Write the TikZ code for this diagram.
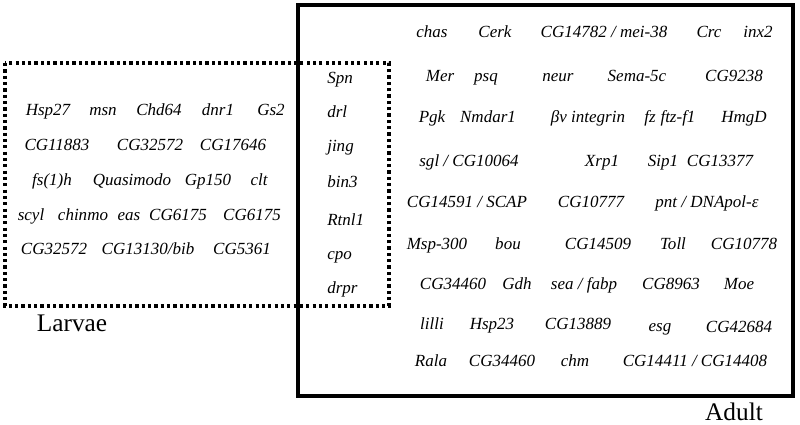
\documentclass[tikz,border=0pt]{standalone}
\usepackage{fontspec}
\setmainfont{Liberation Serif}
\usetikzlibrary{positioning}
\tikzset{
  gene/.style={font=\fontsize{12.1}{14}\selectfont\itshape,
    inner sep=0pt, text height=8pt, text depth=2pt},
  lgene/.style={gene, anchor=west},
  stage/.style={font=\fontsize{18}{20}\selectfont, inner sep=0pt},
  larvbox/.style={draw, line width=2.5pt, dash pattern=on 2.3pt off 2.2pt},
  adultbox/.style={draw, line width=2.8pt},
}

\begin{document}
\begin{tikzpicture}[x=0.025cm, y=-0.025cm]
  \useasboundingbox (0,0) rectangle (800,425);
  % the two sets
  \draw[adultbox] (298,5) rectangle (793,396);
  \draw[larvbox] (5,63) rectangle (389,306);
  \node[stage] (larvae) at (72,323) {Larvae};
  \node[stage] (adult) at (734,412) {Adult};

  % larvae only
  \node[gene] (hsp27) at (48,111) {Hsp27};
  \node[gene] (msn) at (103,111) {msn};
  \node[gene] (chd64) at (159,111) {Chd64};
  \node[gene] (dnr1) at (218,111) {dnr1};
  \node[gene] (gs2) at (271,111) {Gs2};
  \node[gene] (cg11883) at (57,146) {CG11883};
  \node[gene] (cg32572a) at (150,146) {CG32572};
  \node[gene] (cg17646) at (233,146) {CG17646};
  \node[gene] (fs1h) at (52,181) {fs(1)h};
  \node[gene] (quasi) at (132,181) {Quasimodo};
  \node[gene] (gp150) at (208,181) {Gp150};
  \node[gene] (clt) at (259,181) {clt};
  \node[gene] (scyl) at (31,216) {scyl};
  \node[gene] (chinmo) at (83,216) {chinmo};
  \node[gene] (eas) at (129,216) {eas};
  \node[gene] (cg6175a) at (178,216) {CG6175};
  \node[gene] (cg6175b) at (252,216) {CG6175};
  \node[gene] (cg32572b) at (54,250) {CG32572};
  \node[gene] (cg13130) at (148,250) {CG13130/bib};
  \node[gene] (cg5361) at (242,250) {CG5361};

  % both stages
  \node[lgene] (spn) at (327,79) {Spn};
  \node[lgene] (drl) at (327,113) {drl};
  \node[lgene] (jing) at (327,147) {jing};
  \node[lgene] (bin3) at (327,183) {bin3};
  \node[lgene] (rtnl1) at (327,221) {Rtnl1};
  \node[lgene] (cpo) at (327,255) {cpo};
  \node[lgene] (drpr) at (327,289) {drpr};

  % adult only
  \node[gene] (chas) at (432,33) {chas};
  \node[gene] (cerk) at (495,33) {Cerk};
  \node[gene] (cg14782) at (604,33) {CG14782 / mei-38};
  \node[gene] (crc) at (709,33) {Crc};
  \node[gene] (inx2) at (758,33) {inx2};
  \node[gene] (mer) at (440,77) {Mer};
  \node[gene] (psq) at (486,77) {psq};
  \node[gene] (neur) at (558,77) {neur};
  \node[gene] (sema5c) at (637,77) {Sema-5c};
  \node[gene] (cg9238) at (734,77) {CG9238};
  \node[gene] (pgk) at (432,118) {Pgk};
  \node[gene] (nmdar1) at (488,118) {Nmdar1};
  \node[gene] (bvint) at (588,118) {βv integrin};
  \node[gene] (fz) at (650,118) {fz};
  \node[gene] (ftzf1) at (678,118) {ftz-f1};
  \node[gene] (hmgd) at (744,118) {HmgD};
  \node[gene] (sgl) at (469,162) {sgl / CG10064};
  \node[gene] (xrp1) at (602,162) {Xrp1};
  \node[gene] (sip1) at (663,162) {Sip1};
  \node[gene] (cg13377) at (720,162) {CG13377};
  \node[gene] (cg14591) at (467,203) {CG14591 / SCAP};
  \node[gene] (cg10777) at (591,203) {CG10777};
  \node[gene] (pnt) at (707,203) {pnt / DNApol-ε};
  \node[gene] (msp300) at (437,245) {Msp-300};
  \node[gene] (bou) at (508,245) {bou};
  \node[gene] (cg14509) at (598,245) {CG14509};
  \node[gene] (toll) at (673,245) {Toll};
  \node[gene] (cg10778) at (744,245) {CG10778};
  \node[gene] (cg34460a) at (453,285) {CG34460};
  \node[gene] (gdh) at (517,285) {Gdh};
  \node[gene] (sea) at (584,285) {sea / fabp};
  \node[gene] (cg8963) at (671,285) {CG8963};
  \node[gene] (moe) at (739,285) {Moe};
  \node[gene] (lilli) at (432,325) {lilli};
  \node[gene] (hsp23) at (492,325) {Hsp23};
  \node[gene] (cg13889) at (578,325) {CG13889};
  \node[gene] (esg) at (660,327) {esg};
  \node[gene] (cg42684) at (739,328) {CG42684};
  \node[gene] (rala) at (431,362) {Rala};
  \node[gene] (cg34460b) at (502,362) {CG34460};
  \node[gene] (chm) at (575,362) {chm};
  \node[gene] (cg14411) at (695,362) {CG14411 / CG14408};
\end{tikzpicture}
\end{document}
